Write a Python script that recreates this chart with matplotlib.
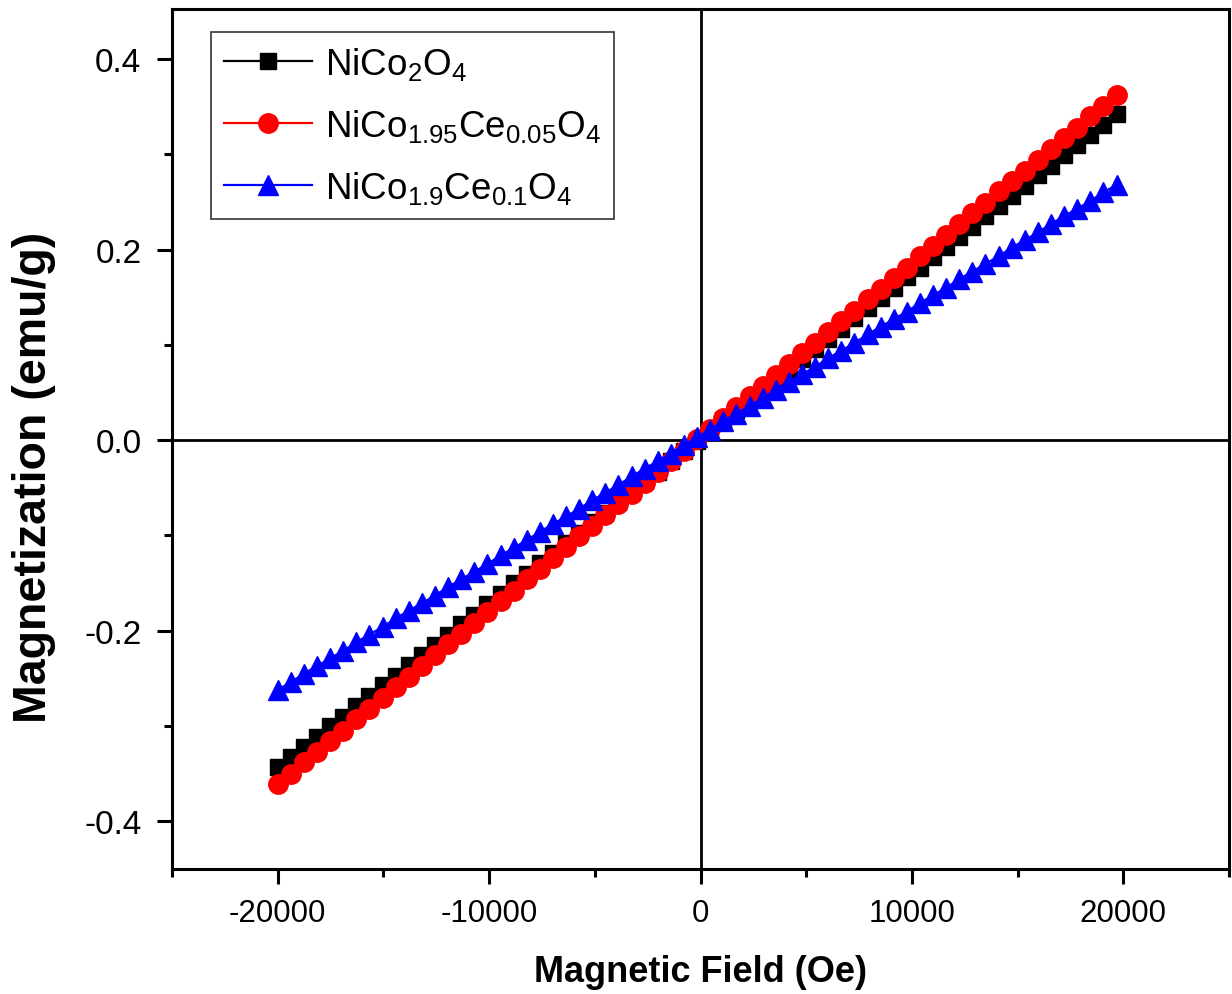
import matplotlib
matplotlib.use("Agg")
import matplotlib.pyplot as plt
from matplotlib.ticker import MultipleLocator

# ---------------- data ----------------
field = [-20000, -19380, -18760, -18140, -17520, -16900, -16280, -15660, -15040, -14420,
         -13800, -13180, -12560, -11940, -11320, -10700, -10080, -9460, -8840, -8220,
         -7600, -6980, -6360, -5740, -5120, -4500, -3880, -3260, -2640, -2020,
         -1400, -780, -160, 460, 1080, 1700, 2320, 2940, 3560, 4180,
         4800, 5420, 6040, 6660, 7280, 7900, 8520, 9140, 9760, 10380,
         11000, 11620, 12240, 12860, 13480, 14100, 14720, 15340, 15960, 16580,
         17200, 17820, 18440, 19060, 19680]

m_nico2o4 = [-0.343, -0.332, -0.322, -0.311, -0.300, -0.290, -0.279, -0.268, -0.257, -0.247,
             -0.236, -0.225, -0.215, -0.204, -0.193, -0.183, -0.172, -0.161, -0.150, -0.140,
             -0.129, -0.118, -0.108, -0.097, -0.086, -0.076, -0.065, -0.054, -0.043, -0.033,
             -0.022, -0.011, -0.001, 0.010, 0.021, 0.032, 0.042, 0.053, 0.064, 0.074,
             0.085, 0.096, 0.106, 0.117, 0.128, 0.139, 0.149, 0.160, 0.171, 0.181,
             0.192, 0.203, 0.213, 0.224, 0.235, 0.246, 0.256, 0.267, 0.278, 0.288,
             0.299, 0.310, 0.320, 0.331, 0.342]

m_ce005 = [-0.361, -0.350, -0.338, -0.327, -0.316, -0.305, -0.293, -0.282, -0.271, -0.259,
           -0.248, -0.237, -0.225, -0.214, -0.203, -0.192, -0.180, -0.169, -0.158, -0.146,
           -0.135, -0.124, -0.112, -0.101, -0.090, -0.079, -0.067, -0.056, -0.045, -0.033,
           -0.022, -0.011, 0.001, 0.012, 0.023, 0.035, 0.046, 0.057, 0.068, 0.080,
           0.091, 0.102, 0.114, 0.125, 0.136, 0.148, 0.159, 0.170, 0.181, 0.193,
           0.204, 0.215, 0.227, 0.238, 0.249, 0.261, 0.272, 0.283, 0.294, 0.306,
           0.317, 0.328, 0.340, 0.351, 0.362]

m_ce01 = [-0.262, -0.254, -0.245, -0.237, -0.229, -0.221, -0.212, -0.204, -0.196, -0.187,
          -0.179, -0.171, -0.163, -0.154, -0.146, -0.138, -0.130, -0.121, -0.113, -0.105,
          -0.096, -0.088, -0.080, -0.072, -0.063, -0.055, -0.047, -0.038, -0.030, -0.022,
          -0.014, -0.005, 0.003, 0.011, 0.020, 0.028, 0.036, 0.044, 0.053, 0.061,
          0.069, 0.077, 0.086, 0.094, 0.102, 0.111, 0.119, 0.127, 0.135, 0.144,
          0.152, 0.160, 0.169, 0.177, 0.185, 0.193, 0.202, 0.210, 0.218, 0.227,
          0.235, 0.243, 0.251, 0.260, 0.268]

labels = [r'NiCo$_\mathregular{2}$O$_\mathregular{4}$',
          r'NiCo$_\mathregular{1.95}$Ce$_\mathregular{0.05}$O$_\mathregular{4}$',
          r'NiCo$_\mathregular{1.9}$Ce$_\mathregular{0.1}$O$_\mathregular{4}$']

x_ticks = [-20000, -10000, 0, 10000, 20000]
y_ticks = [-0.4, -0.2, 0.0, 0.2, 0.4]
y_ticklabels = ['-0.4', '-0.2', '0.0', '0.2', '0.4']
x_ticklabels = ['-20000', '-10000', '0', '10000', '20000']

# ---------------- style ----------------
plt.rcParams['font.family'] = ['Liberation Sans', 'DejaVu Sans']
plt.rcParams['mathtext.fontset'] = 'custom'
plt.rcParams['mathtext.rm'] = 'Liberation Sans'
plt.rcParams['mathtext.it'] = 'Liberation Sans:italic'
plt.rcParams['mathtext.bf'] = 'Liberation Sans:bold'

fig = plt.figure(figsize=(12.32, 9.95), dpi=100)
ax = fig.add_axes([172 / 1232, 125 / 995, (1229 - 172) / 1232, (870 - 10) / 995])

ax.axhline(0, color='black', lw=2.0, zorder=1)
ax.axvline(0, color='black', lw=2.0, zorder=1)

ax.plot(field, m_nico2o4, color='black', marker='s', markersize=11.5, lw=1.6,
        label=labels[0], zorder=3)
ax.plot(field, m_ce005, color='red', marker='o', markersize=14, lw=1.6,
        label=labels[1], zorder=4)
ax.plot(field, m_ce01, color='blue', marker='^', markersize=14, lw=1.6,
        label=labels[2], zorder=5)

ax.set_xlim(-25000, 25000)
ax.set_ylim(-0.45, 0.4525)

ax.set_xticks(x_ticks)
ax.set_xticklabels(x_ticklabels)
ax.set_yticks(y_ticks)
ax.set_yticklabels(y_ticklabels)
ax.xaxis.set_minor_locator(MultipleLocator(5000))
ax.yaxis.set_minor_locator(MultipleLocator(0.1))

for s in ax.spines.values():
    s.set_linewidth(2.2)
ax.tick_params(which='both', direction='out', width=2.2, top=False, right=False)
ax.tick_params(which='major', length=11)
ax.tick_params(axis='x', which='major', pad=10, labelsize=22.5)
ax.tick_params(axis='y', which='major', pad=11, labelsize=24)
ax.tick_params(which='minor', length=6)

ax.set_xlabel('Magnetic Field (Oe)', fontsize=26, fontweight='bold')
ax.set_ylabel('Magnetization (emu/g)', fontsize=33.5, fontweight='bold')
ax.xaxis.set_label_coords(0.500, -0.099)
ax.yaxis.set_label_coords(-0.110, 0.456)

leg = ax.legend(loc='upper left', bbox_to_anchor=(39 / 1057, 1 - 23 / 860),
                borderaxespad=0, fontsize=26.5, handlelength=2.4, handletextpad=0.35,
                labelspacing=0.68, borderpad=0.35, fancybox=False, framealpha=1,
                edgecolor='#333333')
leg.get_frame().set_linewidth(1.2)

fig.savefig('out.png', dpi=100)
